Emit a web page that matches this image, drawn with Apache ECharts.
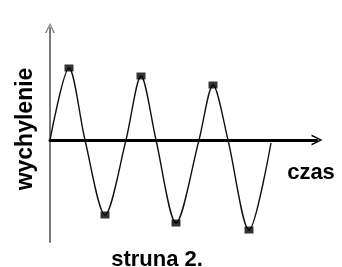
<!DOCTYPE html>
<html>
<head>
<meta charset="utf-8">
<script src="https://cdn.jsdelivr.net/npm/echarts@6/dist/echarts.min.js"></script>
<style>
  html, body { margin: 0; padding: 0; background: #fff; }
  #chart { width: 342px; height: 267px; }
</style>
</head>
<body>
<div id="chart"></div>
<script>
// wave: time and deflection (zero crossings + extremes)
const czas = [0, 19, 35, 55, 76, 91, 106, 126, 149, 163, 178, 199, 221];
const wychylenie = [0, 72, 0, -75, 0, 64, 0, -83, 0, 55, 0, -90, -3];
// indexes of the extremes marked with small squares
const extremaIdx = [1, 3, 5, 7, 9, 11];

const yAxisName = 'wychylenie';
const xAxisName = 'czas';
const chartTitle = 'struna 2.';

const font = '"Liberation Sans", Arial, sans-serif';

let waveData = czas.map((t, i) => [t, wychylenie[i]]);
let markData = extremaIdx.map(i => [czas[i], wychylenie[i]]);

// open chevron arrow heads (tip pointing up, rotated by the axis)
let chevron = 'path://M0,20 L10,0 L20,20 L17,20 L10,5 L3,20 Z';

let option = {
    animation: false,
    grid: {
        left: 50,
        right: 25,
        top: 28,
        bottom: 25
    },
    xAxis: {
        type: 'value',
        min: 0,
        max: 267,
        axisLine: {
            onZero: true,
            symbol: ['none', chevron],
            symbolSize: [24, 11],
            lineStyle: { color: '#000', width: 3 }
        },
        axisTick: { show: false },
        axisLabel: { show: false },
        splitLine: { show: false }
    },
    yAxis: {
        type: 'value',
        min: -102,
        max: 112,
        axisLine: {
            show: true,
            onZero: false,
            symbol: ['none', chevron],
            symbolSize: [10, 21],
            lineStyle: { color: '#7a7a7a', width: 2 }
        },
        axisTick: { show: false },
        axisLabel: { show: false },
        splitLine: { show: false }
    },
    graphic: [
        {
            type: 'text',
            x: 26,
            y: 129,
            rotation: Math.PI / 2,
            style: {
                text: yAxisName,
                font: 'bold 23px ' + font,
                fill: '#000',
                align: 'center',
                verticalAlign: 'middle'
            }
        },
        {
            type: 'text',
            x: 311,
            y: 173,
            style: {
                text: xAxisName,
                font: 'bold 22px ' + font,
                fill: '#000',
                align: 'center',
                verticalAlign: 'middle'
            }
        },
        {
            type: 'text',
            x: 157,
            y: 260,
            style: {
                text: chartTitle,
                font: 'bold 22px ' + font,
                fill: '#000',
                align: 'center',
                verticalAlign: 'middle'
            }
        }
    ],
    series: [
        {
            type: 'line',
            data: waveData,
            smooth: 0.3,
            showSymbol: false,
            symbol: 'none',
            lineStyle: { color: '#111', width: 1.4 },
            z: 1
        },
        {
            type: 'scatter',
            data: markData,
            symbol: 'rect',
            symbolSize: [9, 7],
            itemStyle: { color: '#000' },
            z: 3
        }
    ]
};
echarts.init(document.getElementById('chart')).setOption(option);
</script>
</body>
</html>
